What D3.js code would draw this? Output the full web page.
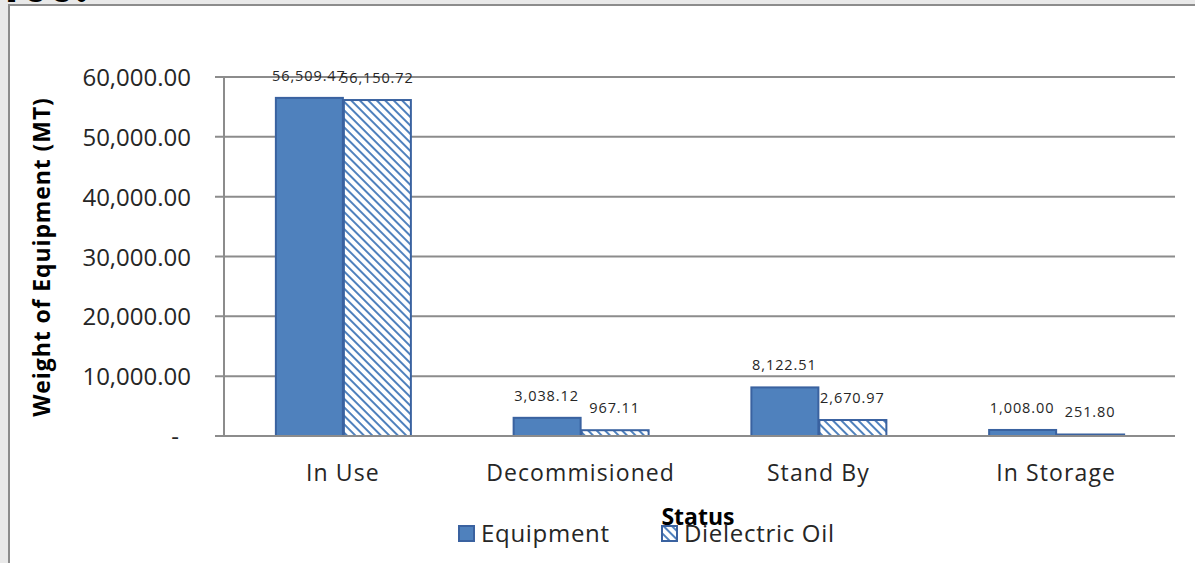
<!DOCTYPE html>
<html>
<head>
<meta charset="utf-8">
<script src="https://cdn.jsdelivr.net/npm/d3@7"></script>
<style>
  html, body { margin: 0; padding: 0; background: #e9e9e9; }
  svg { display: block; }
  text { font-family: "Open Sans", "Noto Sans", sans-serif; }
</style>
</head>
<body>
<svg id="chart" width="1195" height="563"></svg>
<script>
// Weight of equipment by status
const categories = ["In Use", "Decommisioned", "Stand By", "In Storage"];
const seriesNames = ["Equipment", "Dielectric Oil"];
const equipment = [56509.47, 3038.12, 8122.51, 1008.00];
const dielectricOil = [56150.72, 967.11, 2670.97, 251.80];
const yTicks = [0, 10000, 20000, 30000, 40000, 50000, 60000];

const svg = d3.select("#chart");
const W = 1195, H = 563;

// Panel frame
svg.append("rect").attr("x", 0).attr("y", 0).attr("width", W).attr("height", H).attr("fill", "#e9e9e9");
svg.append("rect").attr("x", 9).attr("y", 5).attr("width", W).attr("height", H)
  .attr("fill", "#ffffff").attr("stroke", "#8c8c8c").attr("stroke-width", 2);

// Heading from the page above, mostly cut off by the frame
svg.append("clipPath").attr("id", "topclip")
  .append("rect").attr("x", 0).attr("y", 0).attr("width", 120).attr("height", 4);
svg.append("text").attr("clip-path", "url(#topclip)")
  .attr("x", -4).attr("y", 2).attr("font-size", 46).attr("font-weight", "bold")
  .attr("fill", "#000").text("100.");

const m = { left: 224, right: 1175, top: 77, bottom: 436 };

const x0 = d3.scaleBand().domain(categories).range([m.left, m.right]).paddingInner(0).paddingOuter(0);
const barW = 68;
const x1 = d3.scaleBand().domain(seriesNames).range([0, barW * 2]).padding(0);
const y = d3.scaleLinear().domain([0, 60000]).range([m.bottom, m.top]);

// Downward-diagonal hatch for the oil series
const defs = svg.append("defs");
const pat = defs.append("pattern").attr("id", "hatch")
  .attr("patternUnits", "userSpaceOnUse").attr("width", 6).attr("height", 6)
  .attr("patternTransform", "rotate(-45)");
pat.append("rect").attr("width", 6).attr("height", 6).attr("fill", "#ffffff");
pat.append("rect").attr("x", 0).attr("y", 0).attr("width", 2).attr("height", 6).attr("fill", "#4f81bd");

const fills = { "Equipment": "#4f81bd", "Dielectric Oil": "url(#hatch)" };

// Gridlines
const gridG = svg.append("g");
gridG.selectAll("line").data(yTicks).join("line")
  .attr("x1", m.left - 9).attr("x2", m.right)
  .attr("y1", d => y(d)).attr("y2", d => y(d))
  .attr("stroke", "#8c8c8c").attr("stroke-width", 2);

// Y axis line
svg.append("line").attr("x1", m.left).attr("x2", m.left)
  .attr("y1", m.top).attr("y2", m.bottom)
  .attr("stroke", "#8c8c8c").attr("stroke-width", 2);

// Y tick labels (accounting style: zero shown as a dash)
const fmt = d3.format(",.2f");
svg.append("g").selectAll("text").data(yTicks).join("text")
  .attr("x", d => d === 0 ? 179 : 191)
  .attr("y", d => y(d) + 9)
  .attr("text-anchor", "end")
  .attr("font-size", 24).attr("fill", "#262626")
  .text(d => d === 0 ? "-" : fmt(d));

// Bars
const rows = categories.map((c, i) => ({ cat: c, vals: [
  { key: "Equipment", v: equipment[i] },
  { key: "Dielectric Oil", v: dielectricOil[i] }
]}));

const groups = svg.append("g").selectAll("g").data(rows).join("g")
  .attr("transform", d => `translate(${x0(d.cat) + x0.bandwidth() / 2 - barW},0)`);

groups.selectAll("rect").data(d => d.vals).join("rect")
  .attr("x", d => x1(d.key) + 1)
  .attr("y", d => y(d.v))
  .attr("width", barW - 1)
  .attr("height", d => y(0) - y(d.v))
  .attr("fill", d => fills[d.key])
  .attr("stroke", "#3a62a0").attr("stroke-width", 2);

groups.selectAll("text").data(d => d.vals).join("text")
  .attr("x", d => x1(d.key) + barW / 2)
  .attr("y", d => y(d.v) - 17)
  .attr("text-anchor", "middle")
  .attr("font-size", 14.5).attr("letter-spacing", 0.9).attr("fill", "#262626")
  .text(d => fmt(d.v));

// Baseline
svg.append("line").attr("x1", m.left - 9).attr("x2", m.right)
  .attr("y1", y(0)).attr("y2", y(0)).attr("stroke", "#8c8c8c").attr("stroke-width", 2);

// Category labels
svg.append("g").selectAll("text").data(categories).join("text")
  .attr("x", d => x0(d) + x0.bandwidth() / 2)
  .attr("y", 481)
  .attr("text-anchor", "middle")
  .attr("font-size", 23).attr("letter-spacing", 1.1).attr("fill", "#262626")
  .text(d => d);

// Axis titles
svg.append("text")
  .attr("transform", "translate(50,257) rotate(-90)")
  .attr("text-anchor", "middle")
  .attr("font-size", 23).attr("letter-spacing", 0.9).attr("font-weight", "bold").attr("fill", "#000")
  .text("Weight of Equipment (MT)");

svg.append("text")
  .attr("x", 698).attr("y", 525)
  .attr("text-anchor", "middle")
  .attr("font-size", 23).attr("font-weight", "bold").attr("fill", "#000")
  .text("Status");

// Legend
const legendX = [458, 661];
const leg = svg.append("g").selectAll("g").data(seriesNames).join("g")
  .attr("transform", (d, i) => `translate(${legendX[i]},525)`);
leg.append("rect").attr("x", 1).attr("y", 1).attr("width", 15).attr("height", 15)
  .attr("fill", d => fills[d]).attr("stroke", "#3a62a0").attr("stroke-width", 2);
leg.append("text").attr("x", 23).attr("y", 17)
  .attr("font-size", 24).attr("letter-spacing", 0.7).attr("fill", "#262626")
  .text(d => d);
</script>
</body>
</html>
